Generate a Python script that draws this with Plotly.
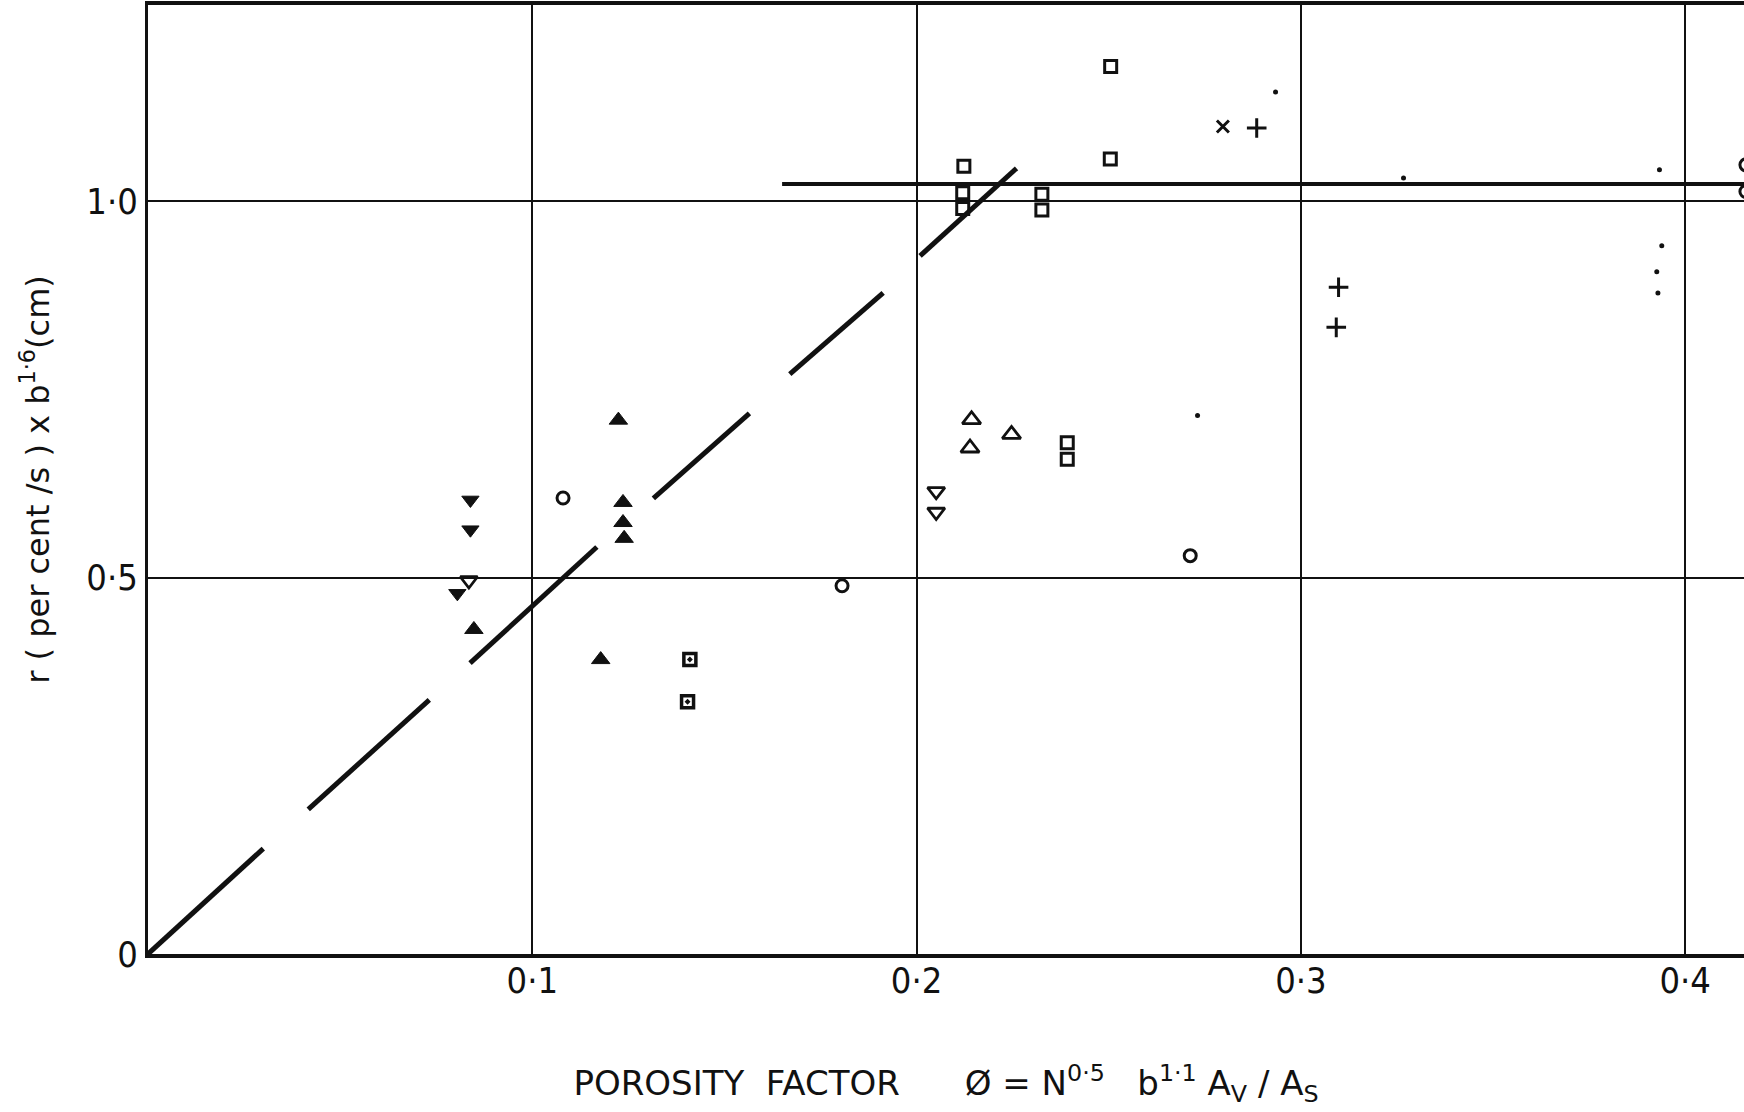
import plotly.graph_objects as go

# ---- data ----
tri_down_filled_x = [0.0839, 0.0839, 0.0805]
tri_down_filled_y = [0.603, 0.5635, 0.479]

tri_down_open_x = [0.0835, 0.2051, 0.2051]
tri_down_open_y = [0.496, 0.6145, 0.587]

tri_up_filled_x = [0.0848, 0.1224, 0.1236, 0.1236, 0.1239, 0.1178]
tri_up_filled_y = [0.431, 0.709, 0.5997, 0.573, 0.552, 0.391]

tri_up_open_x = [0.2143, 0.2139, 0.2247]
tri_up_open_y = [0.7096, 0.672, 0.69]

circle_open_x = [0.108, 0.1806, 0.2712, 0.4158, 0.4158]
circle_open_y = [0.6056, 0.489, 0.529, 1.048, 1.0126]

square_dot_x = [0.141, 0.1404]
square_dot_y = [0.391, 0.335]

square_open_x = [0.2505, 0.2504, 0.2123, 0.212, 0.212, 0.2326, 0.2326, 0.2392, 0.2392]
square_open_y = [1.1787, 1.0558, 1.046, 1.011, 0.99, 1.009, 0.988, 0.679, 0.657]

cross_x = [0.2797]
cross_y = [1.099]

plus_x = [0.2885, 0.3098, 0.3092]
plus_y = [1.097, 0.8854, 0.8322]

dot_x = [0.2934, 0.3267, 0.3933, 0.3939, 0.3926, 0.3929, 0.2731]
dot_y = [1.1448, 1.0304, 1.0414, 0.9406, 0.9062, 0.8778, 0.715]

# dashed fitted line: segment end points
fit_seg_x0 = [0.0, 0.0417, 0.0838, 0.1315, 0.1670, 0.2009]
fit_seg_y0 = [0.0, 0.192, 0.3862, 0.6051, 0.770, 0.927]
fit_seg_x1 = [0.030, 0.0732, 0.1168, 0.1565, 0.1913, 0.2260]
fit_seg_y1 = [0.140, 0.3376, 0.5405, 0.718, 0.878, 1.0434]

plateau_x = [0.165, 0.42]
plateau_y = [1.0226, 1.0226]

x_ticks = [0.1, 0.2, 0.3, 0.4]
x_tick_labels = ["0·1", "0·2", "0·3", "0·4"]
y_ticks = [0, 0.5, 1.0]
y_tick_labels = ["0", "0·5", "1·0"]

TICKFONT = "DejaVu Sans Condensed, Liberation Sans Narrow, Arial Narrow, sans-serif"
TITLEFONT = "DejaVu Sans, Verdana, sans-serif"
BLACK = "#111111"

fig = go.Figure()

# fitted dashed line
lx, ly = [], []
for a, b, c, d in zip(fit_seg_x0, fit_seg_y0, fit_seg_x1, fit_seg_y1):
    lx += [a, c, None]
    ly += [b, d, None]
fig.add_trace(go.Scatter(x=lx, y=ly, mode="lines",
                         line=dict(color=BLACK, width=5), hoverinfo="skip"))
fig.add_trace(go.Scatter(x=plateau_x, y=plateau_y, mode="lines",
                         line=dict(color=BLACK, width=4), hoverinfo="skip"))

def add_markers(x, y, symbol, size, lw=2.5, color=BLACK):
    fig.add_trace(go.Scatter(
        x=x, y=y, mode="markers",
        marker=dict(symbol=symbol, size=size, color=color,
                    line=dict(color=BLACK, width=lw))))

add_markers(tri_down_filled_x, tri_down_filled_y, "triangle-down", 15, 1)
add_markers(tri_down_open_x, tri_down_open_y, "triangle-down-open", 15, 2.8)
add_markers(tri_up_filled_x, tri_up_filled_y, "triangle-up", 16, 1)
add_markers(tri_up_open_x, tri_up_open_y, "triangle-up-open", 16, 2.8)
add_markers(circle_open_x, circle_open_y, "circle-open", 12, 3)
add_markers(square_dot_x, square_dot_y, "square-open-dot", 12, 3.5)
add_markers(square_open_x, square_open_y, "square-open", 12, 3)
add_markers(cross_x, cross_y, "x-thin-open", 12, 3)
add_markers(plus_x, plus_y, "cross-thin-open", 14, 3)
add_markers(dot_x, dot_y, "circle", 5, 0)

fig.update_layout(
    width=1744, height=1112,
    margin=dict(l=148, r=0, t=5, b=158),
    paper_bgcolor="white", plot_bgcolor="white",
    showlegend=False,
    font=dict(family=TITLEFONT, color=BLACK, size=30),
    xaxis=dict(
        range=[0, 0.4153], tickvals=x_ticks, ticktext=x_tick_labels,
        showgrid=True, gridcolor=BLACK, gridwidth=2,
        showline=True, linecolor=BLACK, linewidth=4, mirror=True,
        zeroline=False, ticks="", tickfont=dict(size=36, family=TICKFONT),
        ticklabelstandoff=-8,
        title=dict(
            text="POROSITY&nbsp;&nbsp;FACTOR&nbsp;&nbsp;&nbsp;&nbsp;&nbsp;&nbsp;Ø = N<sup>0·5</sup>&nbsp;&nbsp;&nbsp;b<sup>1·1</sup> A<sub>V</sub> / A<sub>S</sub>",
            font=dict(size=34, family=TITLEFONT), standoff=72),
    ),
    yaxis=dict(
        range=[0, 1.2603], tickvals=y_ticks, ticktext=y_tick_labels,
        showgrid=True, gridcolor=BLACK, gridwidth=2,
        showline=True, linecolor=BLACK, linewidth=3,
        zeroline=False, ticks="", tickfont=dict(size=36, family=TICKFONT),
        title=dict(text="r ( per cent /s ) x b<sup>1·6</sup>(cm)",
                   font=dict(size=32, family=TITLEFONT), standoff=28),
    ),
)

fig.write_html("out.html")
